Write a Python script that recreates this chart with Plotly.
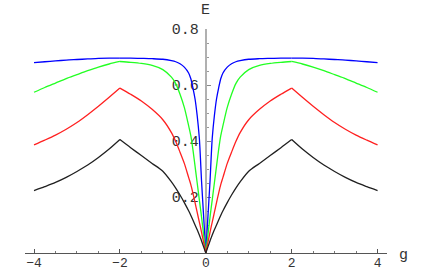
import plotly.graph_objects as go

# g values for the right half (the chart is mirror-symmetric about g = 0)
g_half = [0.0, 0.05, 0.1, 0.125, 0.15, 0.2, 0.25, 0.3, 0.35, 0.4, 0.5, 0.6, 0.7, 0.8,
          1.0, 1.25, 1.5, 1.75, 2.0, 2.25, 2.5, 2.75, 3.0, 3.25, 3.5, 3.75, 4.0]

blue_half = [0.0, 0.13, 0.26, 0.34, 0.41, 0.49, 0.55, 0.59, 0.623, 0.643, 0.664, 0.676, 0.683, 0.687,
             0.692, 0.694, 0.695, 0.696, 0.696, 0.696, 0.695, 0.693, 0.691, 0.689, 0.686, 0.683, 0.680]
green_half = [0.0, 0.065, 0.13, 0.16, 0.19, 0.25, 0.31, 0.37, 0.42, 0.455, 0.52, 0.567, 0.605, 0.628,
              0.655, 0.670, 0.677, 0.681, 0.684, 0.675, 0.664, 0.651, 0.637, 0.623, 0.607, 0.591, 0.574]
red_half = [0.0, 0.038, 0.075, 0.093, 0.11, 0.145, 0.18, 0.214, 0.245, 0.27, 0.32, 0.36, 0.398, 0.43,
            0.476, 0.513, 0.543, 0.567, 0.589, 0.556, 0.524, 0.494, 0.466, 0.442, 0.421, 0.403, 0.386]
black_half = [0.0, 0.022, 0.044, 0.054, 0.064, 0.083, 0.100, 0.118, 0.135, 0.151, 0.180, 0.207, 0.232, 0.254,
              0.292, 0.320, 0.348, 0.376, 0.405, 0.371, 0.341, 0.314, 0.291, 0.270, 0.252, 0.237, 0.223]

series = [("blue", blue_half, "#0000ff"),
          ("green", green_half, "#22ff22"),
          ("red", red_half, "#ff2020"),
          ("black", black_half, "#202020")]

x_tickvals = [-4, -2, 0, 2, 4]
x_ticktext = ["\u22124", "\u22122", "0", "2", "4"]
y_tickvals = [0.2, 0.4, 0.6, 0.8]
y_ticktext = ["0.2", "0.4", "0.6", "0.8"]

# the curves have sharp corners at g = 0 and g = +/-2; draw smooth pieces between them
k2 = g_half.index(2.0)
pieces = [(0, k2 + 1), (k2, len(g_half))]

fig = go.Figure()
for name, half, col in series:
    for a, b in pieces:
        xs = g_half[a:b]
        ys = half[a:b]
        for sign in (1, -1):
            fig.add_trace(go.Scatter(x=[sign * v for v in xs], y=ys, mode="lines", name=name,
                                     line=dict(color=col, width=1.3, shape="spline", smoothing=0.8),
                                     showlegend=False, hoverinfo="skip"))

mono = "Liberation Mono, Courier New, monospace"

fig.update_layout(
    width=436, height=273,
    margin=dict(l=25, r=49.3, t=29.3, b=19.7, autoexpand=False),
    paper_bgcolor="white", plot_bgcolor="white",
    xaxis=dict(range=[-4.21, 4.22], showgrid=False, zeroline=False, automargin=False,
               showline=True, linecolor="#555555", linewidth=1,
               tickvals=x_tickvals, ticktext=x_ticktext,
               ticks="inside", ticklen=4, tickcolor="#555555", ticklabelstandoff=-3,
               minor=dict(dtick=0.5, tick0=0, ticks="inside", ticklen=2, tickcolor="#777777"),
               tickfont=dict(family=mono, size=13, color="#333333"), layer="below traces"),
    yaxis=dict(range=[0, 0.8], showgrid=False, zeroline=False, automargin=False,
               anchor="free", position=4.21 / 8.43,
               showline=True, linecolor="#b0b0b0", linewidth=2,
               tickvals=y_tickvals, ticktext=y_ticktext,
               ticks="inside", ticklen=4, tickcolor="#888888", ticklabelstandoff=3,
               minor=dict(dtick=0.05, tick0=0, ticks="inside", ticklen=2, tickcolor="#999999"),
               tickfont=dict(family=mono, size=15, color="#333333"), layer="below traces"),
    annotations=[
        dict(text="E", x=180 / 361.7, y=1, xref="paper", yref="paper", yshift=19,
             xanchor="center", yanchor="middle",
             showarrow=False, font=dict(family=mono, size=15, color="#333333")),
        dict(text="g", x=378 / 361.7, y=0, xref="paper", yref="paper", yshift=-2,
             xanchor="center", yanchor="middle",
             showarrow=False, font=dict(family=mono, size=15, color="#333333")),
    ],
)

fig.write_html("out.html", config={"displayModeBar": False},
               post_script="document.body.style.margin='0px';")
